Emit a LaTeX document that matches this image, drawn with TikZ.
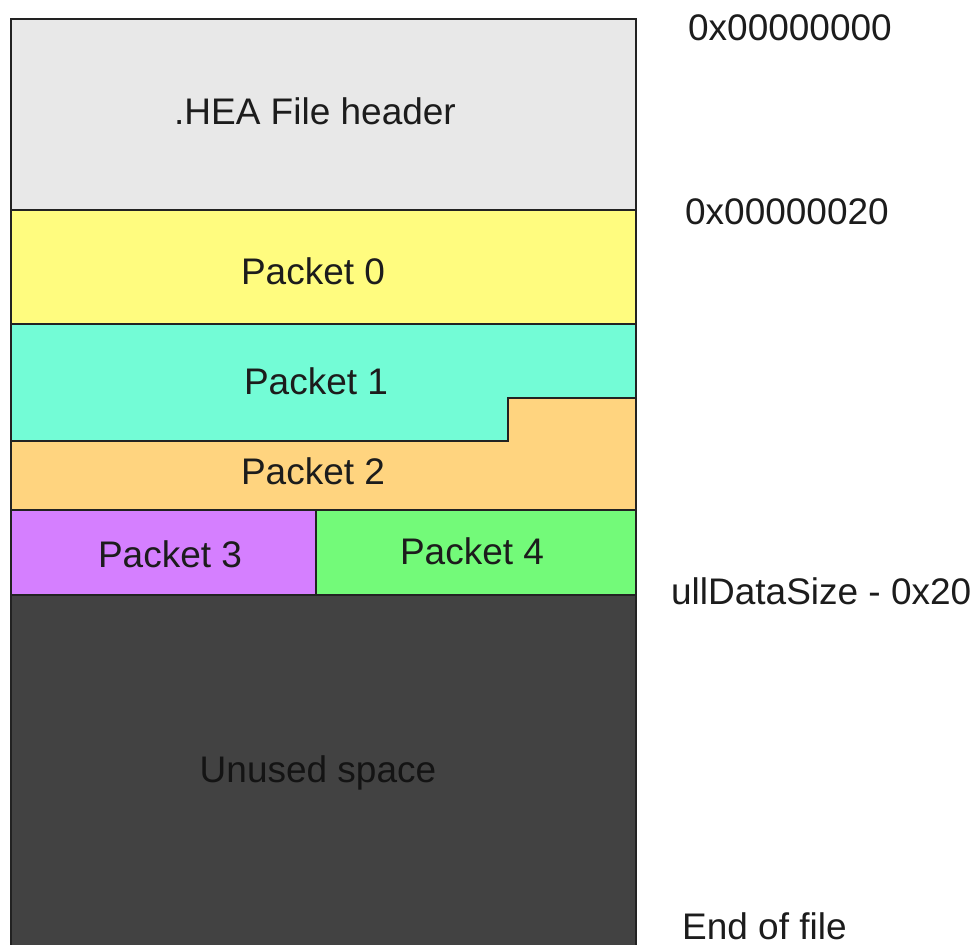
\documentclass[tikz,border=0pt]{standalone}
\usepackage{fontspec}
\setmainfont{Liberation Sans}
\definecolor{edge}{HTML}{222222}
\definecolor{ink}{HTML}{1C1C1C}
\definecolor{hdrfill}{HTML}{E8E8E8}
\definecolor{pktzero}{HTML}{FFFC7F}
\definecolor{pktone}{HTML}{73FCD6}
\definecolor{pkttwo}{HTML}{FFD47F}
\definecolor{pktthree}{HTML}{D57FFF}
\definecolor{pktfour}{HTML}{73FA79}
\definecolor{unused}{HTML}{424242}
\begin{document}
\begin{tikzpicture}[x=1pt,y=-1pt,line width=2.2pt,line join=miter,
  region/.style={draw=edge},
  lbl/.style={font=\fontsize{37}{43}\selectfont,text=ink,inner sep=0pt,anchor=base},
  addr/.style={lbl,anchor=base west}]
\useasboundingbox (0,0) rectangle (972,945);

% file regions, top to bottom
\draw[region,fill=hdrfill] (11,19) rectangle (636,210);
\draw[region,fill=pktzero] (11,210) rectangle (636,324);
\draw[region,fill=pktone] (11,324) -- (636,324) -- (636,398) -- (508,398)
  -- (508,441) -- (11,441) -- cycle;
\draw[region,fill=pkttwo] (11,441) -- (508,441) -- (508,398) -- (636,398)
  -- (636,510) -- (11,510) -- cycle;
\draw[region,fill=pktthree] (11,510) rectangle (316,595);
\draw[region,fill=pktfour] (316,510) rectangle (636,595);
\draw[region,fill=unused] (11,595) rectangle (636,960);

% region labels
\node[lbl] (hdr) at (315,124) {.HEA File header};
\node[lbl] (p0) at (313,284) {Packet 0};
\node[lbl] (p1) at (316,394) {Packet 1};
\node[lbl] (p2) at (313,484) {Packet 2};
\node[lbl] (p3) at (170,567) {Packet 3};
\node[lbl] (p4) at (472,564) {Packet 4};
\node[lbl,text=black!92] (free) at (318,782) {Unused space};

% offsets along the right side
\node[addr] (a0) at (687,40) {0x00000000};
\node[addr] (a20) at (684,224) {0x00000020};
\node[addr] (aend) at (670,604) {ullDataSize - 0x20};
\node[addr] (eof) at (681,939) {End of file};
\end{tikzpicture}
\end{document}
